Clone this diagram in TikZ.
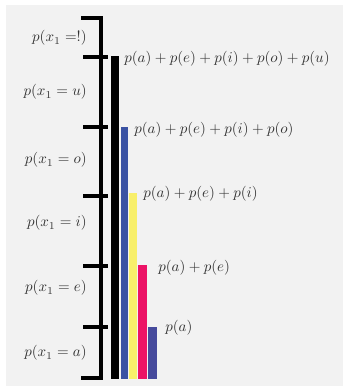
\documentclass[tikz,border=0pt]{standalone}
\definecolor{bg}{HTML}{F2F2F2}
\definecolor{cblue}{HTML}{3A52A3}
\definecolor{cyellow}{HTML}{F8EF6A}
\definecolor{cpink}{HTML}{EC1366}
\definecolor{cpurple}{HTML}{464A9C}
\definecolor{txt}{HTML}{333333}
\tikzset{
  axisline/.style={line width=3.5pt, black},
  lbl/.style={inner sep=0pt, text=txt, scale=1.5, transform shape},
  leftlbl/.style={lbl, anchor=east},
  rightlbl/.style={lbl, anchor=west},
}
\begin{document}
\begin{tikzpicture}[x=1pt,y=-1pt]
\useasboundingbox (0,0) rectangle (343,386);
\fill[white] (0,0) rectangle (343,386);
\fill[bg] (6,5) rectangle (343,386);
% axis with hooks
\draw[axisline, line join=miter] (81,18) -- (101,18) -- (101,378) -- (81,378);
\foreach \yy in {57,127,196,266,327} \draw[axisline] (83,\yy) -- (108,\yy);
% bars
\fill[black]   (111,56)  rectangle (119,379);
\fill[cblue]   (120.7,127) rectangle (127.7,379);
\fill[cyellow] (128.7,193) rectangle (136.7,379);
\fill[cpink]   (138.3,265) rectangle (147.3,379);
\fill[cpurple] (148.3,327) rectangle (156.7,379);
% left labels
\node[leftlbl] (lx) at (87,38) {$p(x_1 =!)$};
\node[leftlbl] (lu) at (87,92) {$p(x_1 = u)$};
\node[leftlbl] (lo) at (87,160) {$p(x_1 = o)$};
\node[leftlbl] (li) at (87,223) {$p(x_1 = i)$};
\node[leftlbl] (le) at (87,288) {$p(x_1 = e)$};
\node[leftlbl] (la) at (87,353) {$p(x_1 = a)$};
% right labels
\node[rightlbl] (ru) at (124,59) {$p(a)+p(e)+p(i)+p(o)+p(u)$};
\node[rightlbl] (ro) at (134,130) {$p(a)+p(e)+p(i)+p(o)$};
\node[rightlbl] (ri) at (143,194) {$p(a)+p(e)+p(i)$};
\node[rightlbl] (re) at (158,268) {$p(a)+p(e)$};
\node[rightlbl] (ra) at (165,328) {$p(a)$};
\end{tikzpicture}
\end{document}
